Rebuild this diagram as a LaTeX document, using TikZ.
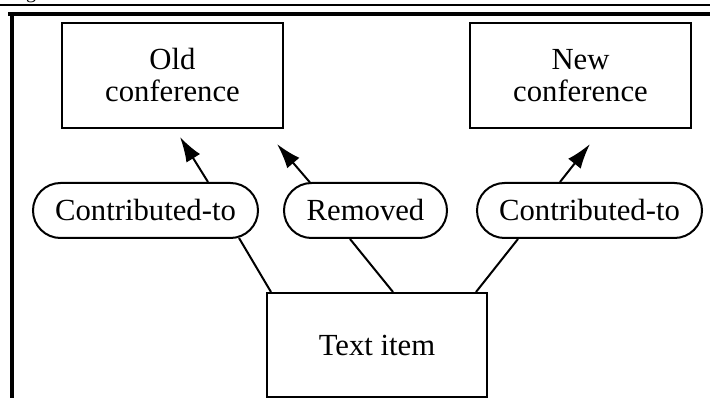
\documentclass[tikz,border=0pt]{standalone}
\usepackage{fontspec}
\setmainfont{Liberation Serif}
\usetikzlibrary{arrows.meta}
\begin{document}
\begin{tikzpicture}[x=1pt,y=-1pt,
  txt/.style={font=\fontsize{30.7}{32}\selectfont},
  box/.style={txt, draw, line width=2pt, minimum width=221pt, minimum height=105pt, inner sep=0pt, align=center},
  lbl/.style={txt, draw, line width=2pt, rounded corners=27.5pt, minimum height=55pt, inner sep=0pt},
  conn/.style={line width=2pt},
  arr/.style={line width=2pt, -{Latex[length=25pt,width=16pt]}},
  rule/.style={line width=2pt},
  frame/.style={line width=4pt}]
\useasboundingbox (0,0) rectangle (710,398);
% cut-off caption at the top
\begin{scope}
\clip (0,0) rectangle (710,398);
\node[anchor=base, font=\fontsize{20}{20}\selectfont, inner sep=0pt] (cap) at (31,-1.5) {g};
\end{scope}
% rules and frame
\draw[rule] (0,5) -- (710,5);
\draw[frame] (8,14.5) -- (710,14.5);
\draw[frame] (12,13) -- (12,400);
% nodes
\node[box] (old) at (172.5,75.5) {Old\\conference};
\node[box] (new) at (580.5,75.5) {New\\conference};
\node[box, minimum width=220pt, minimum height=104pt] (ti) at (377,345) {Text item};
\node[lbl, minimum width=225pt] (c1) at (145.5,210.5) {Contributed-to};
\node[lbl, minimum width=163pt] (rm) at (365.5,210.5) {Removed};
\node[lbl, minimum width=225pt] (c2) at (589.5,210.5) {Contributed-to};
% connectors
\draw[conn] ([xshift=5pt]ti.north west) -- ([xshift=93.5pt,yshift=1pt]c1.south);
\draw[arr] ([xshift=62.5pt]c1.north) -- ([xshift=7.5pt,yshift=-8pt]old.south);
\draw[conn] ([xshift=16pt]ti.north) -- ([xshift=-15.5pt]rm.south);
\draw[arr] ([xshift=-55.5pt,yshift=-0.5pt]rm.north) -- ([xshift=-7pt,yshift=-15pt]old.south east);
\draw[conn] ([xshift=-12pt]ti.north east) -- ([xshift=-71.5pt]c2.south);
\draw[arr] ([xshift=-29.5pt]c2.north) -- ([xshift=9.5pt,yshift=-15pt]new.south);
\end{tikzpicture}
\end{document}
